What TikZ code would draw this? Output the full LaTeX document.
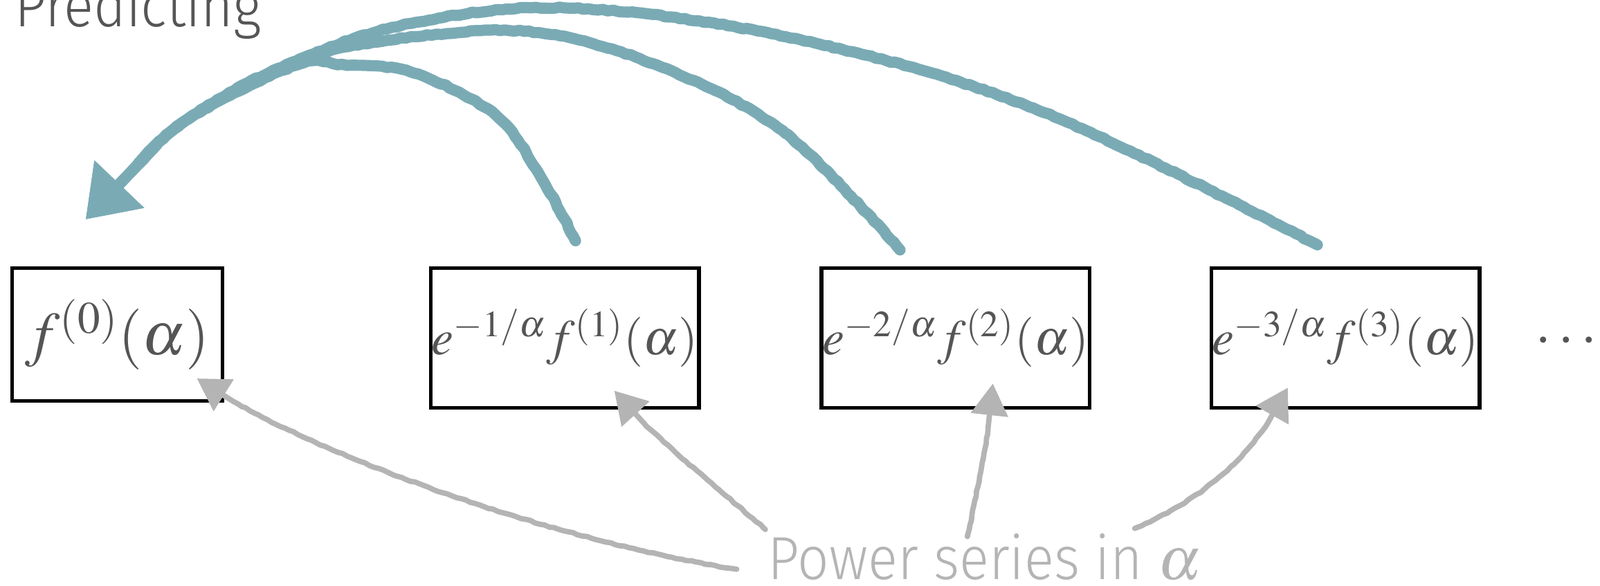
\documentclass[tikz,border=0pt]{standalone}
\usepackage{mathptmx}
\usepackage{fontspec}
\newfontfamily\lightsans{Fira Sans Light}[FakeStretch=0.91]
\usetikzlibrary{arrows.meta,decorations.pathmorphing}

\definecolor{chalkteal}{HTML}{7AABB5}
\definecolor{chalkgrey}{HTML}{B4B4B4}
\definecolor{inkgrey}{HTML}{555555}

\tikzset{
  termbox/.style={draw=black, line width=1.5pt, inner sep=0pt,
    minimum width=38.78mm, minimum height=20.2mm,
    text=inkgrey, font=\fontsize{20.5}{24}\selectfont},
  predict/.style={draw=chalkteal, line width=4.6pt, line cap=round, line join=round,
    decorate, decoration={random steps, segment length=2pt, amplitude=0.3pt,
      pre length=2pt, post length=30pt},
    -{Triangle[length=20pt, width=27pt]}},
  series/.style={draw=chalkgrey, line width=2.2pt, line cap=round, line join=round,
    decorate, decoration={random steps, segment length=2pt, amplitude=0.25pt,
      pre length=1pt, post length=18pt},
    -{Triangle[length=13pt, width=15pt]}},
  caption/.style={font=\lightsans\fontsize{25}{28}\selectfont, inner sep=0pt}
}

\begin{document}
\begin{tikzpicture}[x=0.14745mm, y=-0.14745mm]
    \useasboundingbox (0,0) rectangle (1568,574);
    \clip (0,0) rectangle (1568,574);

    % Title
    \node[caption, text=inkgrey, anchor=base west] (title) at (14,26) {Predicting};

    % Terms
    \node[termbox, minimum width=30.37mm, minimum height=19.17mm, font=\fontsize{25}{29}\selectfont] (f0) at (115,328) {$f^{(0)}(\alpha)$};
    \node[termbox] (f1) at (553.5,331.5) {$e^{-1/\alpha}f^{(1)}(\alpha)$};
    \node[termbox] (f2) at (936.5,331.5) {$e^{-2/\alpha}f^{(2)}(\alpha)$};
    \node[termbox] (f3) at (1318.5,331.5) {$e^{-3/\alpha}f^{(3)}(\alpha)$};
    \node[text=inkgrey, font=\fontsize{24}{28}\selectfont] (dots) at (1535,335) {$\cdots$};

    % Label
    \node[caption, text=chalkgrey, anchor=base west] (power) at (752,568) {Power series in $\alpha$};

    % Predicting arrows
    \coordinate (tip) at (84,215);
    \coordinate (s1) at (564,236);
    \coordinate (s2) at (882,245);
    \coordinate (s3) at (1291,240);
    \draw[predict] plot[smooth, tension=0.6] coordinates {(s3) (1013,106) (770,36) (558,8) (407,22) (290,60) (182,118) (125,172) (tip)};
    \draw[predict] plot[smooth, tension=0.6] coordinates {(s2) (770,131) (649,66) (528,32) (407,36) (290,60) (182,118) (125,172) (tip)};
    \draw[predict] plot[smooth, tension=0.6] coordinates {(s1) (528,170) (486,113) (407,72) (340,64) (290,64) (182,118) (125,172) (tip)};

    % Power series arrows
    \coordinate (t0) at (722,558);
    \coordinate (t1) at (750,519);
    \coordinate (t2) at (948,526);
    \coordinate (t3) at (1112,518);
    \coordinate (h0) at (193,371);
    \coordinate (h1) at (602,383);
    \coordinate (h2) at (973,376);
    \coordinate (h3) at (1262,380);
    \draw[series] (t0) .. controls (540,530) and (290,440) .. (h0);
    \draw[series] (t1) .. controls (700,475) and (635,425) .. (h1);
    \draw[series] (t2) .. controls (960,470) and (970,420) .. (h2);
    \draw[series] (t3) .. controls (1180,490) and (1235,440) .. (h3);
\end{tikzpicture}
\end{document}
